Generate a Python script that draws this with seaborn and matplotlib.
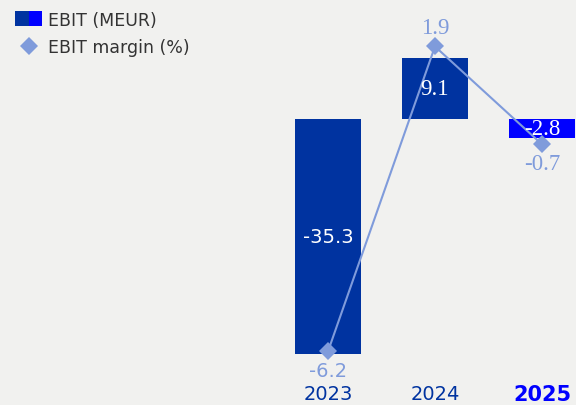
import matplotlib
matplotlib.use("Agg")
import matplotlib.pyplot as plt
import seaborn as sns
import pandas as pd
from matplotlib.patches import Patch
from matplotlib.lines import Line2D
from matplotlib.legend_handler import HandlerTuple

# ---- data ----
years = ["2023", "2024", "2025"]
ebit = [-35.3, 9.1, -2.8]
margin = [-6.2, 1.9, -0.7]
legend_labels = ["EBIT (MEUR)", "EBIT margin (%)"]

# ---- style ----
BG = "#F1F1EF"
DARK = "#0033A0"
BRIGHT = "#0000FF"
LINEC = "#7F9BDB"
bar_colors = [DARK, DARK, BRIGHT]

sns.set_theme(style="white")
plt.rcParams["font.family"] = ["DejaVu Sans"]

fig = plt.figure(figsize=(5.76, 4.06), dpi=100, facecolor=BG)
ax = fig.add_axes([0, 36 / 406, 1, 370 / 406])
ax.set_facecolor(BG)

df = pd.DataFrame({"year": years, "ebit": ebit, "margin": margin})
sns.barplot(data=df, x="year", y="ebit", hue="year", palette=bar_colors,
            width=0.617, saturation=1, legend=False, linewidth=0, ax=ax)

ax.set_xlim(-3.065, 2.318)
ax.set_ylim(-250 / 6.65, 120 / 6.65)
for s in ax.spines.values():
    s.set_visible(False)
ax.set_yticks([])
ax.set_xlabel("")
ax.set_ylabel("")
ax.tick_params(axis="x", length=0, pad=11)
ax.set_xticks(range(len(years)))
ax.set_xticklabels(years)
for i, t in enumerate(ax.get_xticklabels()):
    if i == len(years) - 1:
        t.set_color(BRIGHT)
        t.set_fontweight("bold")
        t.set_fontsize(15)
    else:
        t.set_color(DARK)
        t.set_fontsize(14)

ax2 = ax.twinx()
ax2.set_ylim(-(370 - 119) / 37.65, 119 / 37.65)
ax2.set_xlim(ax.get_xlim())
sns.lineplot(x=list(range(len(years))), y=margin, ax=ax2, color=LINEC,
             linewidth=1.5, marker="D", markersize=9.5, markeredgewidth=0,
             sort=False, zorder=3)
ax2.set_yticks([])
for s in ax2.spines.values():
    s.set_visible(False)

# bar value labels (on ax2 so they sit above the line)
bar_fonts = [["DejaVu Sans"], ["Liberation Serif"], ["Liberation Serif"]]
bar_sizes = [14, 16.5, 16.5]
for i, v in enumerate(ebit):
    ax2.text(i, v / 2, f"{v:.1f}", transform=ax.transData, ha="center",
             va="center", color="white", family=bar_fonts[i],
             fontsize=bar_sizes[i], zorder=5)

# margin labels
m_fonts = [["DejaVu Sans"], ["Liberation Serif"], ["Liberation Serif"]]
m_sizes = [14, 16.5, 16.5]
for i, m in enumerate(margin):
    off = 14 if m >= 0 else -14
    ax2.annotate(f"{m:.1f}", (i, m), xytext=(0, off), textcoords="offset points",
                 ha="center", va="center", color=LINEC, family=m_fonts[i],
                 fontsize=m_sizes[i], zorder=5)

handles = [
    (Patch(facecolor=DARK, edgecolor="none"), Patch(facecolor=BRIGHT, edgecolor="none")),
    Line2D([], [], color=LINEC, marker="D", markersize=9.5, linestyle="none",
           markeredgewidth=0),
]
fig.legend(handles, legend_labels, loc="upper left",
           bbox_to_anchor=(6 / 576, 1 - 3 / 406), frameon=False,
           fontsize=12.5, borderpad=0, handlelength=1.6, handleheight=0.9,
           handletextpad=0.3, labelspacing=0.55, labelcolor="#333333",
           handler_map={tuple: HandlerTuple(ndivide=None, pad=0)})

fig.savefig("out.png", dpi=100, facecolor=BG)
